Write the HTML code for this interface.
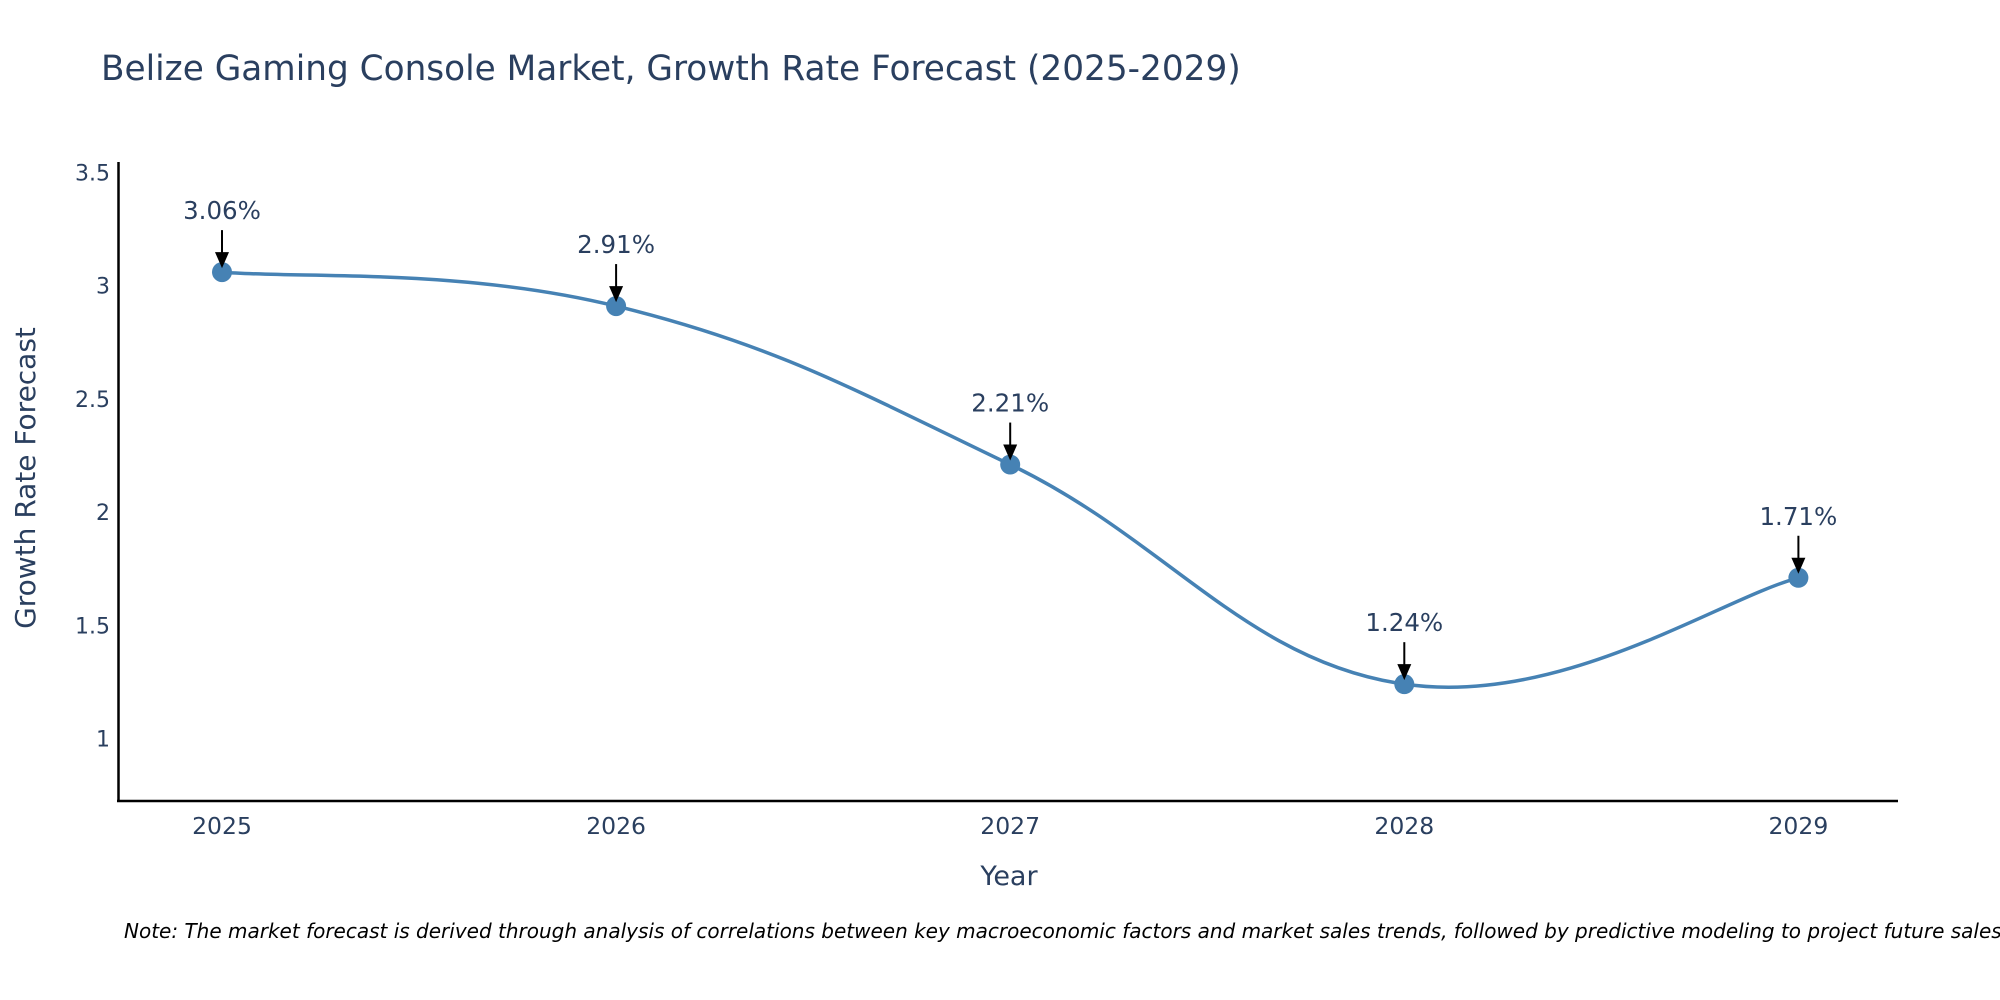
<!DOCTYPE html>
<html><head><meta charset="utf-8"><style>
body{margin:0;background:#fff;}
svg{display:block;font-family:"DejaVu Sans","Liberation Sans",sans-serif;}
</style></head><body>
<svg id="chart" width="2000" height="1000" viewBox="0 0 2000 1000">
<rect width="2000" height="1000" fill="#fff"/>
<text x="101" y="80" font-size="34.3" fill="#2a3f5f">Belize Gaming Console Market, Growth Rate Forecast (2025-2029)</text>
<g id="yticks"></g>
<g id="xticks"></g>
<line x1="118.5" y1="162" x2="118.5" y2="802" stroke="#000" stroke-width="2.5"/>
<line x1="117" y1="801" x2="1898" y2="801" stroke="#000" stroke-width="2.5"/>
<path id="line" fill="none" stroke="#4682b4" stroke-width="3.5"/>
<g id="marks"></g>
<text x="1009" y="885" font-size="27" fill="#2a3f5f" text-anchor="middle">Year</text>
<text x="0" y="0" font-size="28" fill="#2a3f5f" text-anchor="middle" transform="translate(35,478) rotate(-90)">Growth Rate Forecast</text>
<text x="124" y="938" font-size="20" font-style="italic" fill="#000">Note: The market forecast is derived through analysis of correlations between key macroeconomic factors and market sales trends, followed by predictive modeling to project future sales.</text>
</svg>
<script>
const years=[2025,2026,2027,2028,2029];
const values=[3.06,2.91,2.21,1.24,1.71];
const labels=["3.06%","2.91%","2.21%","1.24%","1.71%"];
const yTicks=[1,1.5,2,2.5,3,3.5];
const NS="http://www.w3.org/2000/svg";
function X(v){return 222+(v-2025)*394.1;}
function Y(v){return 738.5-(v-1)*226.4;}
function mk(t,a,p){const e=document.createElementNS(NS,t);for(const k in a)e.setAttribute(k,a[k]);p.appendChild(e);return e;}
const yt=document.getElementById('yticks');
yTicks.forEach(v=>{const t=mk('text',{x:110,y:Y(v)+8,'font-size':22,fill:'#2a3f5f','text-anchor':'end'},yt);


t.textContent=String(v);});
const xt=document.getElementById('xticks');
years.forEach(v=>{const t=mk('text',{x:X(v),y:834,'font-size':23.5,fill:'#2a3f5f','text-anchor':'middle'},xt);


t.textContent=String(v);});
const pts=years.map((y,i)=>[X(y),Y(values[i])]);
let d='M'+pts[0][0]+','+pts[0][1];
const s=0.2;
for(let i=0;i<pts.length-1;i++){const p0=pts[Math.max(i-1,0)],p1=pts[i],p2=pts[i+1],p3=pts[Math.min(i+2,pts.length-1)];
const c1=[p1[0]+(p2[0]-p0[0])*s,p1[1]+(p2[1]-p0[1])*s];
const c2=[p2[0]-(p3[0]-p1[0])*s,p2[1]-(p3[1]-p1[1])*s];
d+=' C'+c1+' '+c2+' '+p2;}
document.getElementById('line').setAttribute('d',d);
const g=document.getElementById('marks');
pts.forEach((p,i)=>{
const c=mk('circle',{cx:p[0],cy:p[1],r:10,fill:'#4682b4'},g);


const l=mk('line',{x1:p[0],y1:p[1]-42,x2:p[0],y2:p[1]-18,stroke:'#000','stroke-width':2},g);


const h=mk('polygon',{points:(p[0]-7)+','+(p[1]-20)+' '+(p[0]+7)+','+(p[1]-20)+' '+p[0]+','+(p[1]-4),fill:'#000'},g);


const t=mk('text',{x:p[0],y:p[1]-53,'font-size':24.5,fill:'#2a3f5f','text-anchor':'middle'},g);


t.textContent=labels[i];});
</script>
</body></html>
